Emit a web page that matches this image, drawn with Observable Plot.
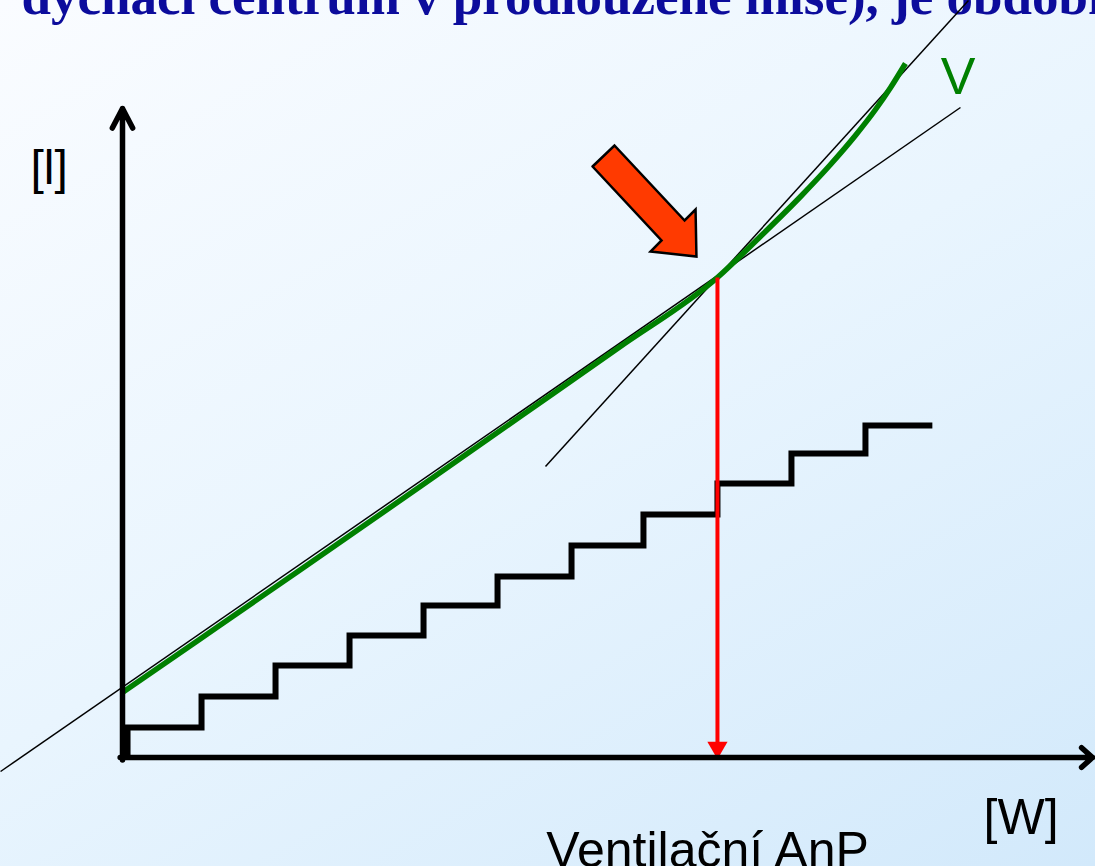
<!DOCTYPE html>
<html><head><meta charset="utf-8">
<script src="https://cdn.jsdelivr.net/npm/d3@7"></script>
<script src="https://cdn.jsdelivr.net/npm/@observablehq/plot@0.6"></script>
<style>
html,body{margin:0;padding:0;}
body{width:1095px;height:866px;overflow:hidden;background:linear-gradient(150deg,#fafcff 0%,#e9f5fe 50%,#d2e9fb 100%);}
</style></head><body><div id="chart"></div>
<script>
// workload (x, W-like units) and ventilation (y, l-like units)
const stepX = [1.7, 1.7, 26.7, 51.7, 76.7, 101.7, 126.7, 151.7, 176.0, 201.0, 226.0, 251.0, 273.6];
const stepY = [0, 3.0, 6.1, 9.2, 12.2, 15.2, 18.1, 21.2, 24.3, 27.4, 30.4, 33.2, 33.2];

const ventX = [0, 26.35, 60.1, 100.7, 134.5, 168.2, 201.0, 215.5, 229.1, 239.2, 247.6, 254.4, 259.5, 264.5];
const ventY = [6.5, 11.88, 18.78, 27.12, 34.12, 41.1, 48.0, 52.1, 56.1, 59.3, 62.2, 64.8, 67.0, 69.4];

const guideNames = ["flat", "steep"];
const guideX1 = [-41.2, 142.9];
const guideY1 = [-1.4, 29.1];
const guideX2 = [283.1, 285.8];
const guideY2 = [65.0, 75.7];

const anpX = 201.0;
const anpY = 48.0;

const pointerX = [158.8, 166.2, 189.9, 193.6, 193.9, 178.4, 182.1, 158.8];
const pointerY = [59.1, 61.2, 53.7, 54.8, 50.1, 50.6, 51.7, 59.1];

const axisXEnd = 327.7;
const axisYEnd = 64.9;

const titleText = "dýchací centrum v prodloužené míše), je obdobná";
const yLabel = "[l]";
const xLabel = "[W]";
const curveLabel = "V";
const anpLabel = "Ventilační AnP";

const sans = "'Liberation Sans', Arial, sans-serif";
const one = [0];

const chart = Plot.plot({
  width: 1095, height: 866, margin: 0,
  x: {domain: [0, 300], range: [122, 1010], axis: null},
  y: {domain: [0, 60], range: [757, 157], axis: null},
  style: {background: "transparent", fontFamily: sans, overflow: "hidden"},
  marks: [
    Plot.text(one, {x: -34.1, y: 74.4, text: () => titleText, textAnchor: "start", lineAnchor: "bottom",
      fontSize: 53, fontWeight: "bold", fontFamily: "'Liberation Serif', 'Times New Roman', serif", fill: "#0c0c9c"}),
    Plot.link(guideNames, {x1: (d, i) => guideX1[i], y1: (d, i) => guideY1[i], x2: (d, i) => guideX2[i], y2: (d, i) => guideY2[i],
      stroke: "black", strokeWidth: 1.5}),
    Plot.line(ventX, {x: (d, i) => ventX[i], y: (d, i) => ventY[i], curve: "monotone-x", stroke: "#008000", strokeWidth: 5.5,
      strokeLinecap: "butt"}),
    Plot.line(stepX, {x: (d, i) => stepX[i], y: (d, i) => stepY[i], curve: "step-after", stroke: "black", strokeWidth: 6,
      strokeLinejoin: "miter", strokeLinecap: "butt", strokeMiterlimit: 4}),
    Plot.link(one, {x1: anpX, y1: anpY, x2: anpX, y2: 1.4, stroke: "#ff0000", strokeWidth: 4}),
    Plot.dot(one, {x: anpX, y: 0, dy: -10, symbol: "triangle", r: 7.5, rotate: 180, fill: "#ff0000", stroke: "none"}),
    Plot.line(pointerX, {x: (d, i) => pointerX[i], y: (d, i) => pointerY[i], fill: "#ff3a00", stroke: "black", strokeWidth: 2.5,
      strokeLinejoin: "miter", strokeMiterlimit: 4, curve: "linear"}),
    Plot.arrow(one, {x1: 0, y1: -0.25, x2: 0, y2: axisYEnd, stroke: "black", strokeWidth: 5.5, headAngle: 55, headLength: 6}),
    Plot.arrow(one, {x1: -0.8, y1: 0, x2: axisXEnd, y2: 0, stroke: "black", strokeWidth: 5.5, headAngle: 84, headLength: 4}),
    Plot.text(one, {x: -31.1, y: 57.4, text: () => yLabel, textAnchor: "start", lineAnchor: "bottom", fontSize: 48, fill: "black"}),
    Plot.text(one, {x: 276.4, y: 66.4, text: () => curveLabel, textAnchor: "start", lineAnchor: "bottom", fontSize: 52, fill: "#008000"}),
    Plot.text(one, {x: 143.2, y: -10.9, text: () => anpLabel, textAnchor: "start", lineAnchor: "bottom", fontSize: 50, fill: "black"}),
    Plot.text(one, {x: 290.9, y: -7.6, text: () => xLabel, textAnchor: "start", lineAnchor: "bottom", fontSize: 50, fill: "black"})
  ]
});
document.getElementById("chart").appendChild(chart);
</script></body></html>
